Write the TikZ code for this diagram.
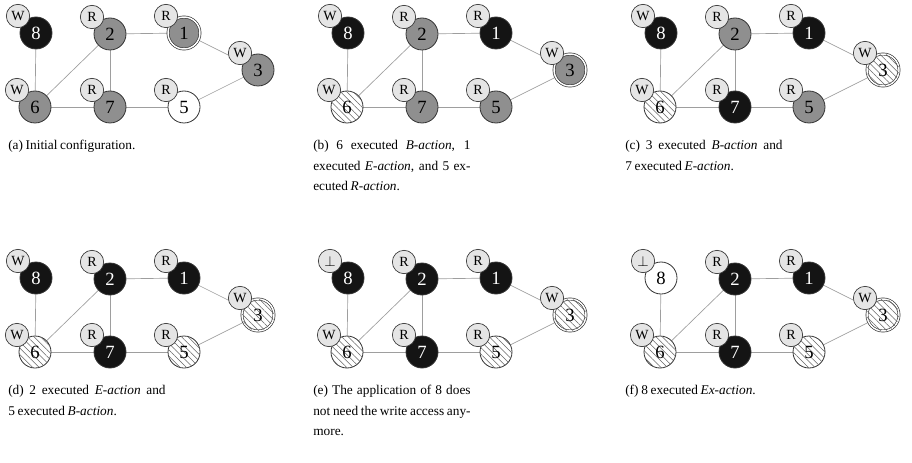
\documentclass[tikz,border=0pt]{standalone}
\usepackage{fontspec}
\setmainfont{Liberation Serif}
\usetikzlibrary{patterns.meta,backgrounds}
\definecolor{nodeblack}{gray}{0.08}
\definecolor{nodegray}{gray}{0.56}
\definecolor{taggray}{gray}{0.9}
\definecolor{edgegray}{gray}{0.62}
\newcommand\captfont{\fontsize{10}{15.4}\selectfont
  \spaceskip=0.2em plus 0.2em minus 0.05em\relax}
\tikzset{
  proc/.style  = {circle, draw=black!80, line width=0.6pt, minimum size=24pt,
                  inner sep=0pt, font=\fontsize{14}{14}\selectfont},
  busy/.style  = {proc, fill=nodeblack, text=white},
  wait/.style  = {proc, fill=nodegray},
  idle/.style  = {proc, fill=white},
  hatch/.style = {proc, fill=white,
                  postaction={pattern={Lines[angle=-45,distance=3.4pt,line width=0.4pt]},
                              pattern color=black!60}},
  ring/.style  = {double, double distance=1.1pt, line width=0.5pt},
  tag/.style   = {circle, draw=black!80, fill=taggray, line width=0.5pt,
                  minimum size=17.5pt, inner sep=0pt, font=\fontsize{10.5}{10.5}\selectfont},
  link/.style  = {draw=edgegray, line width=0.5pt},
  capt/.style  = {anchor=north west, text width=118pt, align=justify, inner sep=0pt,
                  font=\captfont}
}
% #1 prefix, #2 tag of 8, #3..#9 styles of 8,2,1,3,6,7,5
\newcommand\graphpanel[9]{%
  \node[#3] (#1-8) at (36,-33)  {8};
  \node[#4] (#1-2) at (110,-34) {2};
  \node[#5] (#1-1) at (184,-33) {1};
  \node[#6] (#1-3) at (258,-70) {3};
  \node[#7] (#1-6) at (35,-107) {6};
  \node[#8] (#1-7) at (110,-107){7};
  \node[#9] (#1-5) at (184,-107){5};
  \node[tag] (#1-8t) at ([shift={(-18,17)}]#1-8.center) {#2};
  \node[tag] (#1-2t) at ([shift={(-18,17)}]#1-2.center) {R};
  \node[tag] (#1-1t) at ([shift={(-18,17)}]#1-1.center) {R};
  \node[tag] (#1-3t) at ([shift={(-18,17)}]#1-3.center) {W};
  \node[tag] (#1-6t) at ([shift={(-18,17)}]#1-6.center) {W};
  \node[tag] (#1-7t) at ([shift={(-18,17)}]#1-7.center) {R};
  \node[tag] (#1-5t) at ([shift={(-18,17)}]#1-5.center) {R};
  \begin{scope}[on background layer]
    \draw[link] (#1-8) -- (#1-6);
    \draw[link] (#1-6) -- (#1-2);
    \draw[link] (#1-2) -- (#1-7);
    \draw[link] (#1-2) -- (#1-1);
    \draw[link] (#1-1) -- (#1-3);
    \draw[link] (#1-3) -- (#1-5);
    \draw[link] (#1-6) -- (#1-7);
    \draw[link] (#1-7) -- (#1-5);
  \end{scope}%
}

\begin{document}
\begin{tikzpicture}[x=0.75pt, y=0.75pt]
  \useasboundingbox (0,0) rectangle (912,-463);

  \begin{scope}
    \graphpanel{a}{W}{busy}{wait}{wait,ring}{wait}{wait}{wait}{idle}
  \end{scope}
  \begin{scope}[shift={(312,0)}]
    \graphpanel{b}{W}{busy}{wait}{busy}{wait,ring}{hatch}{wait}{wait}
  \end{scope}
  \begin{scope}[shift={(625,0)}]
    \graphpanel{c}{W}{busy}{wait}{busy}{hatch,ring}{hatch}{busy}{wait}
  \end{scope}
  \begin{scope}[shift={(0,-245)}]
    \graphpanel{d}{W}{busy}{busy}{busy}{hatch,ring}{hatch}{busy}{hatch}
  \end{scope}
  \begin{scope}[shift={(312,-245)}]
    \graphpanel{e}{$\perp$}{busy}{busy}{busy}{hatch,ring}{hatch}{busy}{hatch}
  \end{scope}
  \begin{scope}[shift={(625,-245)}]
    \graphpanel{f}{$\perp$}{idle}{busy}{busy}{hatch,ring}{hatch}{busy}{hatch}
  \end{scope}

  % captions
  \node[capt] (capa) at (8,-140)   {(a) Initial configuration.};
  \node[capt] (capb) at (313,-140) {(b) 6 executed \textit{B-action}, 1\linebreak
    executed \textit{E-action}, and 5 ex-\linebreak ecuted \textit{R-action}.};
  \node[capt] (capc) at (625,-140) {(c) 3 executed \textit{B-action} and\linebreak
    7 executed \textit{E-action}.};
  \node[capt] (capd) at (8,-385)   {(d) 2 executed \textit{E-action} and\linebreak
    5 executed \textit{B-action}.};
  \node[capt] (cape) at (313,-385) {(e) The application of 8 does\linebreak
    not need the write access any-\linebreak more.};
  \node[capt] (capf) at (625,-385) {(f) 8 executed \textit{Ex-action}.};
\end{tikzpicture}
\end{document}
